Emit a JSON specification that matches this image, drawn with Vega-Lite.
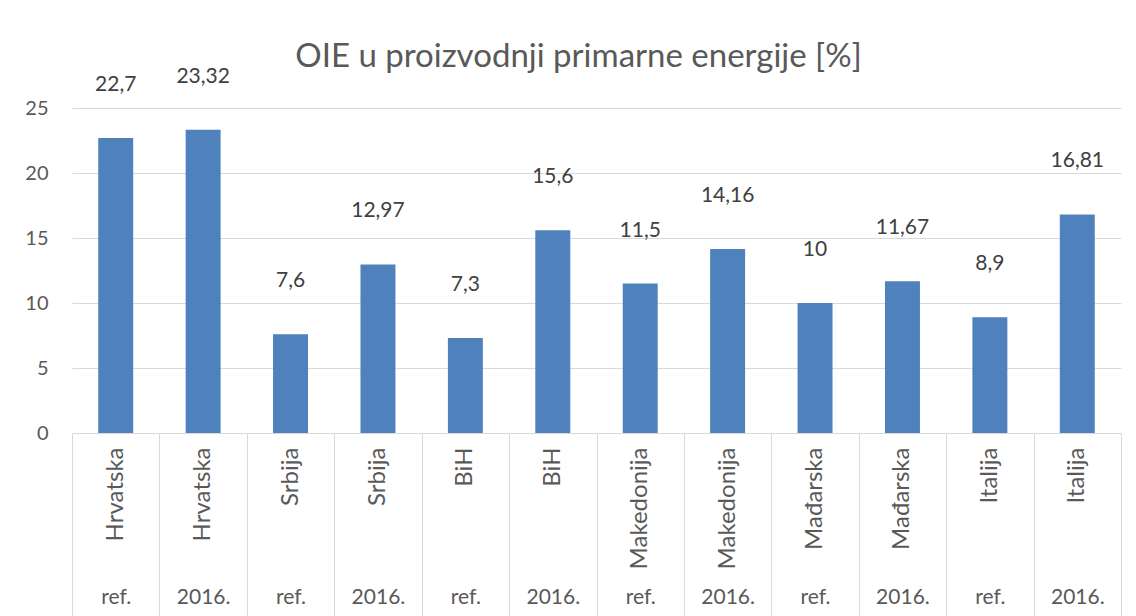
{
  "$schema": "https://vega.github.io/schema/vega-lite/v6.json",
  "width": 1049,
  "height": 325,
  "autosize": {"type": "none"},
  "padding": {"left": 72, "top": 108, "right": 15, "bottom": 183},
  "background": "white",
  "config": {
    "font": "Lato",
    "view": {"stroke": null},
    "locale": {"number": {"decimal": ",", "thousands": ".", "grouping": [3], "currency": ["", ""]}}
  },
  "title": {
    "text": "OIE u proizvodnji primarne energije [%]",
    "font": "Lato",
    "fontSize": 33,
    "fontWeight": "normal",
    "color": "#595959",
    "anchor": "middle",
    "frame": "group",
    "dx": -18,
    "offset": -8
  },
  "data": {
    "values": [
      {"kategorija": "Hrvatska|ref.", "vrijednost": 22.7},
      {"kategorija": "Hrvatska|2016.", "vrijednost": 23.32},
      {"kategorija": "Srbija|ref.", "vrijednost": 7.6},
      {"kategorija": "Srbija|2016.", "vrijednost": 12.97},
      {"kategorija": "BiH|ref.", "vrijednost": 7.3},
      {"kategorija": "BiH|2016.", "vrijednost": 15.6},
      {"kategorija": "Makedonija|ref.", "vrijednost": 11.5},
      {"kategorija": "Makedonija|2016.", "vrijednost": 14.16},
      {"kategorija": "Mađarska|ref.", "vrijednost": 10},
      {"kategorija": "Mađarska|2016.", "vrijednost": 11.67},
      {"kategorija": "Italija|ref.", "vrijednost": 8.9},
      {"kategorija": "Italija|2016.", "vrijednost": 16.81}
    ]
  },
  "layer": [
    {
      "mark": {"type": "bar", "color": "#4F81BD", "width": {"band": 0.4}},
      "encoding": {
        "x": {
          "field": "kategorija", "type": "nominal", "sort": null,
          "scale": {"paddingInner": 0, "paddingOuter": 0},
          "axis": {
            "orient": "bottom",
            "title": null,
            "labelExpr": "split(datum.label, '|')[0]",
            "labelAngle": 270,
            "labelAlign": "right",
            "labelBaseline": "middle",
            "labelPadding": 14,
            "labelFontSize": 24,
            "labelColor": "#595959",
            "labelFont": "Lato",
            "ticks": false,
            "domainColor": "#D9D9D9",
            "domainWidth": 1,
            "grid": false
          }
        },
        "y": {
          "field": "vrijednost", "type": "quantitative",
          "scale": {"domain": [0, 25], "nice": false},
          "axis": {
            "title": null,
            "values": [0, 5, 10, 15, 20, 25],
            "domain": false,
            "ticks": false,
            "grid": true,
            "gridColor": "#D9D9D9",
            "gridWidth": 1,
            "labelPadding": 24,
            "labelFontSize": 20,
            "labelColor": "#595959",
            "labelFont": "Lato"
          }
        }
      }
    },
    {
      "mark": {"type": "text", "baseline": "middle", "align": "center", "dy": -53, "fontSize": 21, "color": "#404040", "font": "Lato"},
      "encoding": {
        "x": {
          "field": "kategorija", "type": "nominal", "sort": null,
          "scale": {"paddingInner": 0, "paddingOuter": 0},
          "axis": {
            "orient": "bottom",
            "title": null,
            "labelExpr": "split(datum.label, '|')[1]",
            "labelAngle": 0,
            "labelAlign": "center",
            "labelBaseline": "alphabetic",
            "labelPadding": -13,
            "labelFontSize": 21,
            "labelColor": "#595959",
            "labelFont": "Lato",
            "tickBand": "extent",
            "tickSize": 183,
            "tickColor": "#D9D9D9",
            "tickWidth": 1,
            "domain": false,
            "grid": false
          }
        },
        "y": {"field": "vrijednost", "type": "quantitative"},
        "text": {"field": "vrijednost", "type": "quantitative", "format": "~g"}
      }
    }
  ],
  "resolve": {"axis": {"x": "independent"}}
}
